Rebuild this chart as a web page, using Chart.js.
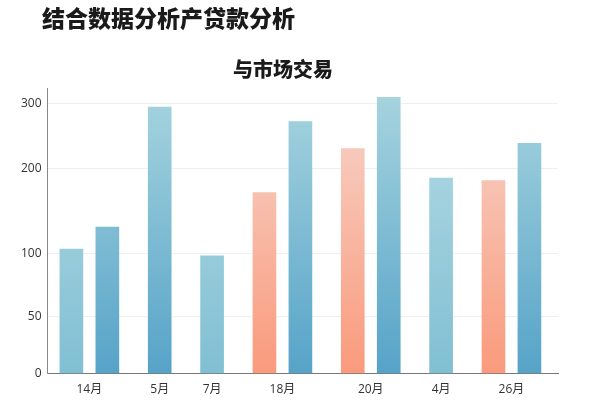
<!DOCTYPE html>
<html lang="zh-CN">
<head>
    <meta charset="UTF-8">
    <title>结合数据分析产贷款分析</title>
    <script src="https://cdn.jsdelivr.net/npm/chart.js"></script>
    <style>
        html, body { margin: 0; padding: 0; background: #fff; }
        .wrap { position: relative; width: 600px; height: 400px; }
        .title {
            position: absolute; left: 42px; top: 6px;
            font: 900 23px/23px "Noto Sans CJK SC", sans-serif; color: #1a1a1a;
            white-space: nowrap;
        }
        .subtitle {
            position: absolute; left: 183px; width: 200px; top: 59px; text-align: center;
            font: 900 20px/20px "Noto Sans CJK SC", sans-serif; color: #1a1a1a;
        }
        canvas { position: absolute; left: 0; top: 0; }
    </style>
</head>
<body>
    <div class="wrap">
        <canvas id="loanChart"></canvas>
        <div class="title">结合数据分析产贷款分析</div>
        <div class="subtitle">与市场交易</div>
    </div>

    <script>
        // 数据
        const months = ['14月', '5月', '7月', '18月', '20月', '4月', '26月'];
        const lightBlue = [105, null, 98, null, null, 189, null];
        const salmon = [null, null, null, 172, 231, null, 186];
        const deepBlue = [131, 294, null, 272, 309, null, 239];
        const yTicks = [0, 50, 100, 200, 300];
        const yMax = 323;

        // y轴刻度在图上的位置 (0 = 底, 1 = 顶), 原图刻度间距不均匀
        const yTickPos = [0, 0.199, 0.421, 0.717, 0.947];

        // 柱子间距
        const GROUP_STEP = 0.99;
        const PAIR_STEP = 0.68;

        const stopVals = yTicks.concat([yMax]);
        const stopPos = yTickPos.concat([1]);

        function toDecimal(v) {
            let i = 0;
            while (i < stopVals.length - 2 && v > stopVals[i + 1]) i++;
            const t = (v - stopVals[i]) / (stopVals[i + 1] - stopVals[i]);
            return stopPos[i] + t * (stopPos[i + 1] - stopPos[i]);
        }
        function fromDecimal(d) {
            let i = 0;
            while (i < stopPos.length - 2 && d > stopPos[i + 1]) i++;
            const t = (d - stopPos[i]) / (stopPos[i + 1] - stopPos[i]);
            return stopVals[i] + t * (stopVals[i + 1] - stopVals[i]);
        }

        class PiecewiseScale extends Chart.LinearScale {
            getPixelForValue(value) {
                if (value === null || isNaN(value)) return NaN;
                return this.getPixelForDecimal(toDecimal(value));
            }
            getValueForPixel(pixel) {
                return fromDecimal(this.getDecimalForPixel(pixel));
            }
        }
        PiecewiseScale.id = 'piecewise';
        PiecewiseScale.defaults = Chart.LinearScale.defaults;
        Chart.register(PiecewiseScale);

        // 按月份分组摆放柱子
        const seriesList = [lightBlue, salmon, deepBlue];
        const barPoints = seriesList.map(() => []);
        const monthCenters = [];
        let cursor = 0;
        months.forEach((m, i) => {
            const present = [];
            seriesList.forEach((s, k) => { if (s[i] !== null) present.push(k); });
            present.forEach((k, j) => {
                barPoints[k].push({ x: cursor + j * PAIR_STEP, y: seriesList[k][i] });
            });
            const last = cursor + (present.length - 1) * PAIR_STEP;
            monthCenters.push((cursor + last) / 2);
            cursor = last + GROUP_STEP;
        });

        function barGradient(context, top, bottom) {
            const chart = context.chart;
            const area = chart.chartArea;
            if (!area) return bottom;
            const g = chart.ctx.createLinearGradient(0, area.top, 0, area.bottom);
            g.addColorStop(0, top);
            g.addColorStop(1, bottom);
            return g;
        }

        const tickFont = { family: '"Open Sans", "Noto Sans CJK SC", sans-serif', size: 12 };

        new Chart(document.getElementById('loanChart'), {
            type: 'bar',
            data: {
                datasets: [
                    {
                        label: '系列一',
                        data: barPoints[0],
                        backgroundColor: ctx => barGradient(ctx, '#b6dce4', '#80bfd3'),
                        grouped: false,
                        barThickness: 23
                    },
                    {
                        label: '系列二',
                        data: barPoints[1],
                        backgroundColor: ctx => barGradient(ctx, '#f6d6cc', '#fa9a7c'),
                        grouped: false,
                        barThickness: 23
                    },
                    {
                        label: '系列三',
                        data: barPoints[2],
                        backgroundColor: ctx => barGradient(ctx, '#a8d5df', '#56a3c8'),
                        grouped: false,
                        barThickness: 23
                    }
                ]
            },
            options: {
                responsive: true,
                maintainAspectRatio: false,
                animation: false,
                layout: { padding: { top: 88, left: 15, right: 42, bottom: -6 } },
                plugins: {
                    legend: { display: false },
                    tooltip: { enabled: false }
                },
                scales: {
                    x: {
                        type: 'linear',
                        offset: false,
                        min: -0.45,
                        max: 9.2,
                        grid: { display: false, drawTicks: false, offset: false },
                        border: { color: '#777' },
                        afterBuildTicks: scale => {
                            scale.ticks = monthCenters.map(v => ({ value: v }));
                        },
                        ticks: {
                            autoSkip: false,
                            maxRotation: 0,
                            padding: 9,
                            color: '#333',
                            font: tickFont,
                            callback: (v, i) => months[i]
                        }
                    },
                    y: {
                        type: 'piecewise',
                        min: 0,
                        max: yMax,
                        grid: { color: '#efefef', drawTicks: false },
                        border: { color: '#888' },
                        afterBuildTicks: scale => {
                            scale.ticks = yTicks.map(v => ({ value: v }));
                        },
                        ticks: {
                            padding: 6,
                            color: '#333',
                            font: tickFont,
                            callback: v => String(v)
                        }
                    }
                }
            }
        });
    </script>
</body>
</html>
